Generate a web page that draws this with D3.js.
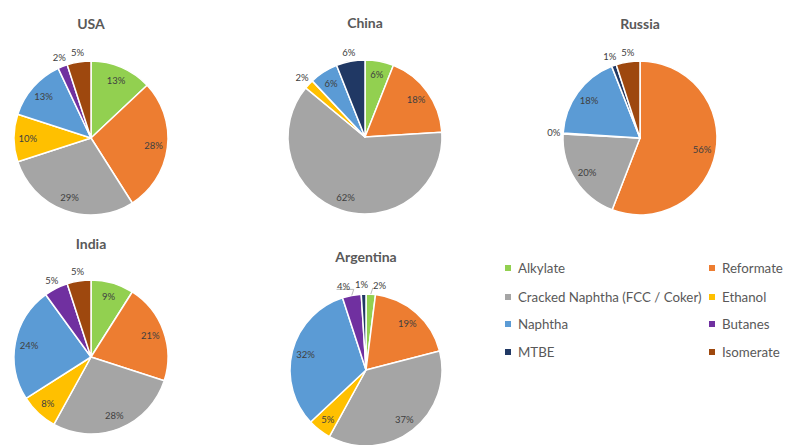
<!DOCTYPE html>
<html>
<head>
<meta charset="utf-8">
<script src="https://cdn.jsdelivr.net/npm/d3@7"></script>
<style>
  html, body { margin: 0; padding: 0; background: #fff; }
  svg { display: block; }
</style>
</head>
<body>
<svg id="chart" width="785" height="445"></svg>
<script>
// ---- Data ----
const categories = ["Alkylate", "Reformate", "Cracked Naphtha (FCC / Coker)", "Ethanol", "Naphtha", "Butanes", "MTBE", "Isomerate"];
const colors = ["#92D050", "#ED7D31", "#A5A5A5", "#FFC000", "#5B9BD5", "#7030A0", "#203864", "#9E480E"];
const countries = ["USA", "China", "Russia", "India", "Argentina"];
// shares in percent, in category order (null = not present)
const usaValues       = [13, 28, 29, 10, 13, 2, null, 5];
const chinaValues     = [6, 18, 62, 2, 6, null, 6, null];
const russiaValues    = [null, 56, 20, 0.2, 18, null, 1, 5];
const indiaValues     = [9, 21, 28, 8, 24, 5, null, 5];
const argentinaValues = [2, 19, 37, 5, 32, 4, 1, null];
const seriesValues = [usaValues, chinaValues, russiaValues, indiaValues, argentinaValues];
// which slices get their label outside the pie (best-fit style)
const outsideLabels = [
  ["Butanes", "Isomerate"],
  ["Ethanol", "MTBE"],
  ["Ethanol", "MTBE", "Isomerate"],
  ["Butanes", "Isomerate"],
  ["Alkylate", "Butanes", "MTBE"]
];

// ---- Layout ----
const layout = [
  { cx: 91,  cy: 138, r: 77, ty: 29 },
  { cx: 365, cy: 137, r: 77, ty: 28 },
  { cx: 640, cy: 138, r: 77, ty: 29 },
  { cx: 91,  cy: 357, r: 77, ty: 249 },
  { cx: 366, cy: 370, r: 76, ty: 262 }
];

const svg = d3.select("#chart");
const color = d3.scaleOrdinal().domain(categories).range(colors);
const pie = d3.pie().sort(null).value(d => d.value);
const fmt = v => Math.round(v) + "%";

countries.forEach((country, ci) => {
  const L = layout[ci];
  const data = categories.map((c, i) => ({ cat: c, value: seriesValues[ci][i] }))
    .filter(d => d.value !== null);
  const arcs = pie(data);
  const g = svg.append("g").attr("transform", `translate(${L.cx},${L.cy})`);
  const arc = d3.arc().innerRadius(0).outerRadius(L.r);

  g.selectAll("path.slice").data(arcs).join("path")
    .attr("class", "slice")
    .attr("d", arc)
    .attr("fill", d => color(d.data.cat))
    .attr("stroke", "#fff")
    .attr("stroke-width", 1.5)
    .attr("stroke-linejoin", "round");

  // labels
  const inArc = d3.arc().innerRadius(L.r * 0.82).outerRadius(L.r * 0.82);
  const outR = L.r * 1.12;
  const labels = arcs.map(a => {
    const mid = (a.startAngle + a.endAngle) / 2;
    const outside = outsideLabels[ci].includes(a.data.cat);
    let x, y;
    if (outside) {
      x = Math.sin(mid) * outR;
      y = -Math.cos(mid) * outR;
    } else {
      [x, y] = inArc.centroid(a);
    }
    return { a, mid, outside, x, y, x0: x, y0: y, text: fmt(a.data.value) };
  });
  // simple horizontal relaxation for outside labels near each other
  const outs = labels.filter(l => l.outside).sort((p, q) => p.x - q.x);
  const minGap = 18;
  for (let it = 0; it < 40; it++) {
    for (let k = 1; k < outs.length; k++) {
      const p = outs[k - 1], q = outs[k];
      if (Math.abs(p.y - q.y) < 11 && q.x - p.x < minGap) {
        const push = (minGap - (q.x - p.x)) / 2;
        p.x -= push; q.x += push;
      }
    }
  }
  // leader lines where labels moved noticeably
  labels.filter(l => l.outside && Math.abs(l.x - l.x0) > 6).forEach(l => {
    const ex = Math.sin(l.mid) * L.r, ey = -Math.cos(l.mid) * L.r;
    g.append("polyline")
      .attr("points", `${ex},${ey} ${ex + 2},${l.y + 3} ${l.x - 7},${l.y + 3}`)
      .attr("fill", "none").attr("stroke", "#a6a6a6").attr("stroke-width", 0.8);
  });

  g.selectAll("text.lbl").data(labels).join("text")
    .attr("class", "lbl")
    .attr("x", d => d.x)
    .attr("y", d => d.y)
    .attr("text-anchor", "middle")
    .attr("dominant-baseline", "central")
    .attr("font-family", "Lato, 'Liberation Sans', sans-serif")
    .attr("font-size", 9.5)
    .attr("fill", "#404040")
    .text(d => d.text);

  svg.append("text")
    .attr("x", L.cx).attr("y", L.ty)
    .attr("text-anchor", "middle")
    .attr("font-family", "Lato, 'Liberation Sans', sans-serif")
    .attr("font-weight", "bold")
    .attr("font-size", 14)
    .attr("fill", "#595959")
    .text(country);
});

// ---- Legend ----
const legendCols = [508, 712];
const legendRows = [268, 297, 324, 352];
const legend = svg.append("g");
categories.forEach((c, i) => {
  const x = legendCols[i % 2], y = legendRows[Math.floor(i / 2)];
  legend.append("rect").attr("x", x - 3).attr("y", y - 3).attr("width", 6).attr("height", 6).attr("fill", color(c));
  legend.append("text")
    .attr("x", x + 10).attr("y", y)
    .attr("dominant-baseline", "central")
    .attr("font-family", "Lato, 'Liberation Sans', sans-serif")
    .attr("font-size", 13.3)
    .attr("fill", "#595959")
    .text(c);
});
</script>
</body>
</html>
